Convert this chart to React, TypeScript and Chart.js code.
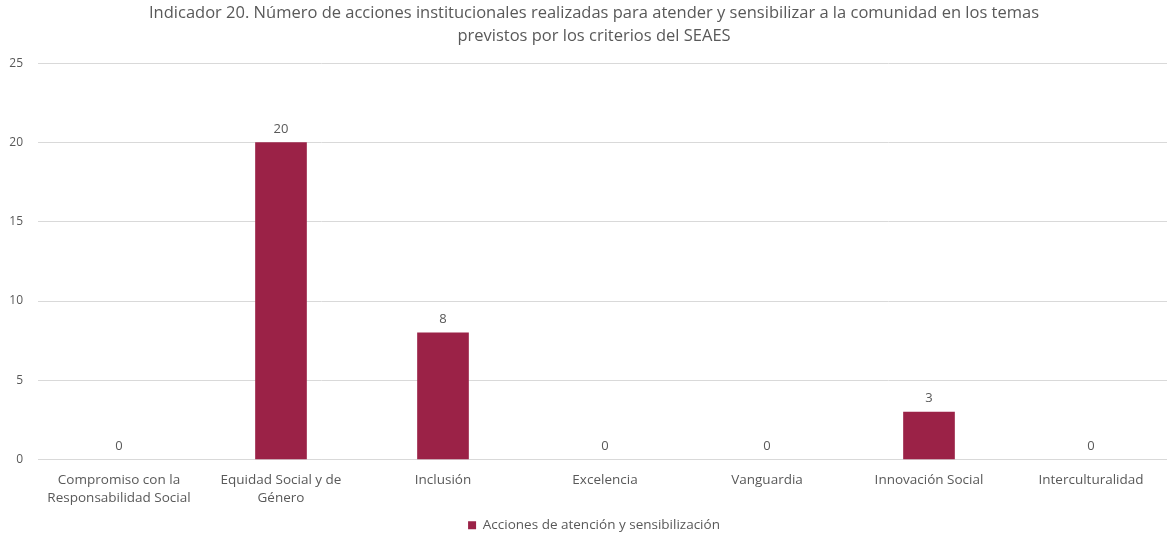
import React, { useEffect, useRef } from "react";
import { Chart, registerables } from "chart.js";

Chart.register(...registerables);

const titleLines = [
  "Indicador 20. Número de acciones institucionales realizadas para atender y sensibilizar a la comunidad en los temas",
  "previstos por los criterios del SEAES",
];
const categories: (string | string[])[] = [
  ["Compromiso con la", "Responsabilidad Social"],
  ["Equidad Social y de", "Género"],
  "Inclusión",
  "Excelencia",
  "Vanguardia",
  "Innovación Social",
  "Interculturalidad",
];
const seriesName = "Acciones de atención y sensibilización";
const values = [0, 20, 8, 0, 0, 3, 0];
const yTicks = [0, 5, 10, 15, 20, 25];

const FONT = "'Open Sans', 'Noto Sans', sans-serif";
const TEXT = "#595959";
const BAR = "#9B2247";
const GRID = "#D9D9D9";

const valueLabels = {
  id: "valueLabels",
  afterDatasetsDraw(chart: any) {
    const ctx = chart.ctx;
    ctx.save();
    ctx.font = `13px ${FONT}`;
    ctx.fillStyle = TEXT;
    ctx.textAlign = "center";
    ctx.textBaseline = "bottom";
    chart.data.datasets.forEach((ds: any, i: number) => {
      const meta = chart.getDatasetMeta(i);
      meta.data.forEach((bar: any, j: number) => {
        ctx.fillText(String(ds.data[j]), bar.x, bar.y - 7);
      });
    });
    ctx.restore();
  },
};

// centre title and legend on the original (uncropped) chart width
const shiftBlocks = {
  id: "shiftBlocks",
  afterLayout(chart: any) {
    const dx = 8;
    [chart.titleBlock, chart.legend].forEach((b: any) => {
      if (b) {
        b.left += dx;
        b.right += dx;
      }
    });
  },
};

export default function App() {
  const ref = useRef<HTMLCanvasElement>(null);
  useEffect(() => {
    document.body.style.margin = "0";
    document.body.style.overflow = "hidden";
    const chart = new Chart(ref.current!, {
      type: "bar",
      data: {
        labels: categories,
        datasets: [
          {
            label: seriesName,
            data: values,
            backgroundColor: values.map((v) => (v === 0 ? "rgba(0,0,0,0)" : BAR)),
            borderWidth: 0,
            barThickness: 51,
          },
        ],
      },
      options: {
        animation: false,
        responsive: false,
        layout: { padding: { left: 0, right: 16, top: 0, bottom: -5 } },
        plugins: {
          title: {
            display: true,
            text: titleLines,
            color: TEXT,
            font: { family: FONT, size: 16.5, weight: "normal", lineHeight: 1.4 },
            padding: { top: 2, bottom: 15 },
          },
          legend: {
            position: "bottom",
            labels: {
              color: TEXT,
              font: { family: FONT, size: 13.5 },
              boxWidth: 8,
              boxHeight: 8,
              padding: 4,
              generateLabels: () => [
                {
                  text: seriesName,
                  fillStyle: BAR,
                  strokeStyle: BAR,
                  lineWidth: 0,
                  fontColor: TEXT,
                  datasetIndex: 0,
                },
              ],
            },
          },
          tooltip: { enabled: false },
        },
        scales: {
          x: {
            grid: { display: false },
            border: { color: GRID },
            ticks: {
              color: TEXT,
              font: { family: FONT, size: 13.5, lineHeight: 1.33 },
              padding: 4,
              maxRotation: 0,
              autoSkip: false,
            },
            afterFit: (s: any) => {
              s.height = s.height + 3;
            },
          },
          y: {
            min: 0,
            max: 25,
            afterBuildTicks: (s: any) => {
              s.ticks = yTicks.map((v) => ({ value: v }));
            },
            grid: { color: GRID, drawTicks: false },
            border: { display: false },
            ticks: {
              color: TEXT,
              font: { family: FONT, size: 12 },
              padding: 15,
            },
            afterFit: (s: any) => {
              s.width = 38;
            },
          },
        },
      },
      plugins: [valueLabels, shiftBlocks],
    });
    return () => chart.destroy();
  }, []);
  return <canvas ref={ref} width={1188} height={537} />;
}
